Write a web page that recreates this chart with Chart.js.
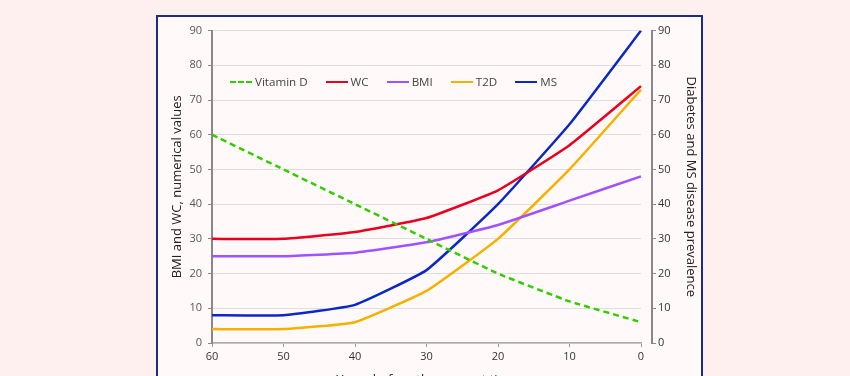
<!DOCTYPE html>
<html>
<head>
<meta charset="utf-8">
<script src="https://cdn.jsdelivr.net/npm/chart.js@4/dist/chart.umd.min.js"></script>
<style>
  html, body { margin: 0; padding: 0; }
  body { width: 850px; height: 376px; overflow: hidden; background: #fdf0ee; position: relative; font-family: 'Open Sans', sans-serif; }
  #box { position: absolute; left: 156px; top: 15px; width: 543px; height: 420px; border: 2px solid #1c2a8a; background: #fffaf9; }
  #wrap { position: absolute; left: 159px; top: 18px; width: 540px; height: 374px; }
  #legend { position: absolute; top: 74px; left: 230px; display: flex; align-items: center; font-size: 11.6px; color: #444; white-space: nowrap; }
  #legend .item { display: flex; align-items: center; margin-right: 18px; }
  #legend .swatch { width: 22px; height: 0; border-top: 2.5px solid; margin-right: 3px; }
</style>
</head>
<body>
<div id="box"></div>
<div id="wrap"><canvas id="chart" width="540" height="374"></canvas></div>
<div id="legend"></div>
<script>
const years = ['60', '50', '40', '30', '20', '10', '0'];
const vitaminD = [60, 50, 40, 30, 20, 12, 6];
const wc = [30, 30, 32, 36, 44, 57, 74];
const bmi = [25, 25, 26, 29, 34, 41, 48];
const t2d = [4, 4, 6, 15, 30, 50, 73];
const ms = [8, 8, 11, 21, 40, 63, 90];

const seriesNames = ['Vitamin D', 'WC', 'BMI', 'T2D', 'MS'];
const seriesColors = ['#33cc00', '#e8001e', '#a052ff', '#f5b000', '#0a28c4'];

const font = { family: "'Open Sans', sans-serif", size: 11 };

const makeSet = (i, data, axis) => ({
  label: seriesNames[i],
  data: data,
  yAxisID: axis,
  borderColor: seriesColors[i],
  backgroundColor: seriesColors[i],
  borderWidth: 2.5,
  pointRadius: 0,
  tension: 0.12,
  borderDash: i == 0 ? [6, 4] : [],
});

// html legend, sits inside the plot like the original
const legend = document.getElementById('legend');
seriesNames.forEach((name, i) => {
  const item = document.createElement('div');
  item.className = 'item';
  const sw = document.createElement('span');
  sw.className = 'swatch';
  sw.style.borderTopColor = seriesColors[i];
  if (i == 0) sw.style.borderTopStyle = 'dashed';
  item.appendChild(sw);
  item.appendChild(document.createTextNode(name));
  legend.appendChild(item);
});

new Chart(document.getElementById('chart').getContext('2d'), {
  type: 'line',
  data: {
    labels: years,
    datasets: [
      makeSet(0, vitaminD, 'y'),
      makeSet(1, wc, 'y'),
      makeSet(2, bmi, 'y'),
      makeSet(3, t2d, 'y2'),
      makeSet(4, ms, 'y2'),
    ]
  },
  options: {
    responsive: false,
    animation: false,
    layout: { padding: { top: 12, left: 10, right: 0, bottom: 0 } },
    plugins: {
      legend: { display: false },
      tooltip: { enabled: false },
    },
    scales: {
      x: {
        offset: false,
        grid: { display: true, drawOnChartArea: false, tickLength: 4, color: '#999' },
        border: { color: '#aaa', width: 1.5 },
        ticks: { font: font, color: '#333', padding: 3, maxRotation: 0 },
        title: { display: true, text: 'Years before the present time', font: { family: font.family, size: 13 }, color: '#222', padding: { top: 6 } },
        afterFit: (s) => { s.height = 49; },
      },
      y: {
        position: 'left',
        min: 0, max: 90,
        ticks: { stepSize: 10, font: font, color: '#555', padding: 6 },
        grid: { color: '#dedede', tickLength: 4, tickColor: '#888' },
        border: { color: '#888', width: 2 },
        title: { display: true, text: 'BMI and WC, numerical values', font: { family: font.family, size: 13 }, color: '#222', padding: 0 },
        afterFit: (s) => { s.width = 43; },
      },
      gap: {
        position: 'right',
        weight: 0,
        display: true,
        grid: { display: false },
        border: { display: false },
        ticks: { display: false },
        afterFit: (s) => { s.width = 11; },
      },
      y2: {
        position: 'right',
        weight: 1,
        min: 0, max: 90,
        ticks: { stepSize: 10, font: font, color: '#333', padding: 2 },
        grid: { drawOnChartArea: false, tickLength: 4, tickColor: '#888' },
        border: { color: '#888', width: 2 },
        title: { display: true, text: 'Diabetes and MS disease prevalence', font: { family: font.family, size: 13 }, color: '#222', padding: 0 },
        afterFit: (s) => { s.width = 47; },
      },
    }
  }
});
</script>
</body>
</html>
